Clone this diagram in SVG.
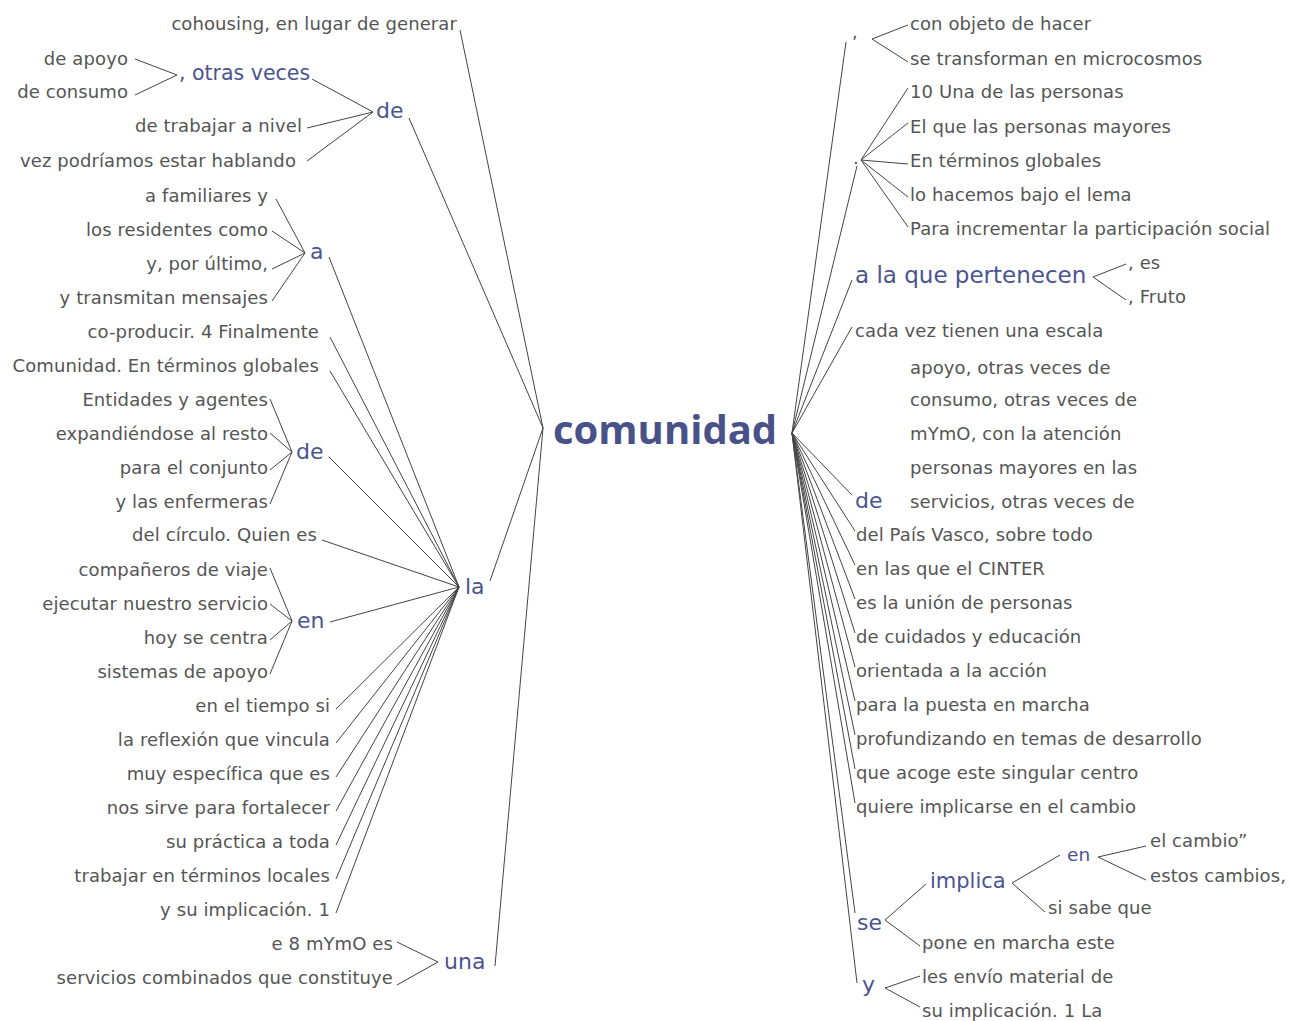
<svg xmlns="http://www.w3.org/2000/svg" width="1290" height="1021" viewBox="0 0 1290 1021">
  <style>
    .t { font-family: "DejaVu Sans", "Noto Sans", "Liberation Sans", sans-serif; font-size: 18px; letter-spacing: 0.1px; fill: #555555; }
    .n { font-family: "DejaVu Sans", "Noto Sans", "Liberation Sans", sans-serif; font-size: 22px; fill: #4a5590; }
    .root { font-family: "Open Sans", "Noto Sans", "Liberation Sans", sans-serif; font-size: 40px; font-weight: bold; fill: #485288; }
    .e { text-anchor: end; }
    .links path { fill: none; stroke: #444444; stroke-width: 1; }
  </style>
  <rect width="1290" height="1021" fill="#ffffff"/>

  <!-- connectors -->
  <g class="links">
    <!-- left side -->
    <path d="M543,428 L460,30"/>
    <path d="M543,428 L409,118"/>
    <path d="M543,428 L490,581"/>
    <path d="M543,428 L495,966"/>
    <path d="M373,112 L312,79 M373,112 L307,128 M373,112 L307,161"/>
    <path d="M177,75 L135,59 M177,75 L135,95"/>
    <path d="M305,253 L276,199 M305,253 L272,231 M305,253 L272,269 M305,253 L272,301"/>
    <path d="M292,452 L270,399 M292,452 L270,433 M292,452 L270,470 M292,452 L270,504"/>
    <path d="M292,621 L270,568 M292,621 L270,604 M292,621 L270,640 M292,621 L270,674"/>
    <path d="M459,587 L329,257 M459,587 L330,337 M459,587 L330,371 M459,587 L329,457 M459,587 L322,540 M459,587 L330,622"/>
    <path d="M459,587 L336,709 M459,587 L336,743 M459,587 L336,777 M459,587 L336,811 M459,587 L336,845 M459,587 L336,879 M459,587 L336,913"/>
    <path d="M438,962 L397,942 M438,962 L397,985"/>
    <!-- right side -->
    <path d="M792,433 L846,42 M792,433 L857,166 M792,433 L852,280 M792,433 L852,327 M792,433 L852,495"/>
    <path d="M792,433 L855,531 M792,433 L855,565 M792,433 L855,599 M792,433 L855,633 M792,433 L855,667 M792,433 L855,701 M792,433 L855,735 M792,433 L855,769 M792,433 L855,803"/>
    <path d="M792,433 L855,913 M792,433 L857,983"/>
    <path d="M872,39 L908,25 M872,39 L908,62"/>
    <path d="M861,160 L908,88 M861,160 L908,123 M861,160 L908,164 M861,160 L908,197 M861,160 L908,227"/>
    <path d="M1093,277 L1126,264 M1093,277 L1126,300"/>
    <path d="M885,920 L926,884 M885,920 L920,946"/>
    <path d="M1012,883 L1060,855 M1012,883 L1045,912"/>
    <path d="M1098,857 L1146,846 M1098,857 L1146,880"/>
    <path d="M885,988 L920,976 M885,988 L920,1007"/>
  </g>

  <!-- root -->
  <g id="node-comunidad"><text class="root" x="553" y="444">comunidad</text></g>

  <!-- left branches -->
  <g id="node-l-cohousing"><text class="t e" x="457" y="30">cohousing, en lugar de generar</text></g>
  <g id="node-l-de1"><text class="n" x="376" y="118">de</text></g>
  <g id="node-l-otras"><text class="n" x="179" y="80" style="font-size:20.5px">, otras veces</text></g>
  <g id="node-l-deapoyo"><text class="t e" x="128" y="65">de apoyo</text></g>
  <g id="node-l-deconsumo"><text class="t e" x="128" y="98">de consumo</text></g>
  <g id="node-l-trabajar"><text class="t e" x="302" y="132">de trabajar a nivel</text></g>
  <g id="node-l-vez"><text class="t e" x="296" y="167">vez podríamos estar hablando</text></g>

  <g id="node-l-la"><text class="n" x="465" y="594">la</text></g>
  <g id="node-l-a"><text class="n" x="310" y="259">a</text></g>
  <g id="node-l-familiares"><text class="t e" x="268" y="202">a familiares y</text></g>
  <g id="node-l-residentes"><text class="t e" x="268" y="236">los residentes como</text></g>
  <g id="node-l-ultimo"><text class="t e" x="268" y="270">y, por último,</text></g>
  <g id="node-l-transmitan"><text class="t e" x="268" y="304">y transmitan mensajes</text></g>
  <g id="node-l-coproducir"><text class="t e" x="319" y="338">co-producir. 4 Finalmente</text></g>
  <g id="node-l-comunidad"><text class="t e" x="319" y="372">Comunidad. En términos globales</text></g>
  <g id="node-l-de2"><text class="n" x="296" y="459">de</text></g>
  <g id="node-l-entidades"><text class="t e" x="268" y="406">Entidades y agentes</text></g>
  <g id="node-l-expandiendose"><text class="t e" x="268" y="440">expandiéndose al resto</text></g>
  <g id="node-l-conjunto"><text class="t e" x="268" y="474">para el conjunto</text></g>
  <g id="node-l-enfermeras"><text class="t e" x="268" y="508">y las enfermeras</text></g>
  <g id="node-l-circulo"><text class="t e" x="317" y="541">del círculo. Quien es</text></g>
  <g id="node-l-en"><text class="n" x="297" y="628">en</text></g>
  <g id="node-l-companeros"><text class="t e" x="268" y="576">compañeros de viaje</text></g>
  <g id="node-l-ejecutar"><text class="t e" x="268" y="610">ejecutar nuestro servicio</text></g>
  <g id="node-l-centra"><text class="t e" x="268" y="644">hoy se centra</text></g>
  <g id="node-l-sistemas"><text class="t e" x="268" y="678">sistemas de apoyo</text></g>
  <g id="node-l-tiempo"><text class="t e" x="330" y="712">en el tiempo si</text></g>
  <g id="node-l-reflexion"><text class="t e" x="330" y="746">la reflexión que vincula</text></g>
  <g id="node-l-especifica"><text class="t e" x="330" y="780">muy específica que es</text></g>
  <g id="node-l-fortalecer"><text class="t e" x="330" y="814">nos sirve para fortalecer</text></g>
  <g id="node-l-practica"><text class="t e" x="330" y="848">su práctica a toda</text></g>
  <g id="node-l-locales"><text class="t e" x="330" y="882">trabajar en términos locales</text></g>
  <g id="node-l-implicacion"><text class="t e" x="330" y="916">y su implicación. 1</text></g>
  <g id="node-l-una"><text class="n" x="444" y="969">una</text></g>
  <g id="node-l-mymo"><text class="t e" x="393" y="950">e 8 mYmO es</text></g>
  <g id="node-l-servicios"><text class="t e" x="393" y="984">servicios combinados que constituye</text></g>

  <!-- right branches -->
  <g id="node-r-comma"><text class="n" x="852" y="38" style="font-size:18px">,</text></g>
  <g id="node-r-objeto"><text class="t" x="910" y="30">con objeto de hacer</text></g>
  <g id="node-r-microcosmos"><text class="t" x="910" y="65">se transforman en microcosmos</text></g>
  <g id="node-r-period"><text class="n" x="853" y="164" style="font-size:18px">.</text></g>
  <g id="node-r-10una"><text class="t" x="910" y="98">10 Una de las personas</text></g>
  <g id="node-r-elque"><text class="t" x="910" y="133">El que las personas mayores</text></g>
  <g id="node-r-terminos"><text class="t" x="910" y="167">En términos globales</text></g>
  <g id="node-r-lema"><text class="t" x="910" y="201">lo hacemos bajo el lema</text></g>
  <g id="node-r-para"><text class="t" x="910" y="235">Para incrementar la participación social</text></g>
  <g id="node-r-pertenecen"><text class="n" x="855" y="283" style="font-size:23px">a la que pertenecen</text></g>
  <g id="node-r-es"><text class="t" x="1128" y="269">, es</text></g>
  <g id="node-r-fruto"><text class="t" x="1128" y="303">, Fruto</text></g>
  <g id="node-r-escala"><text class="t" x="855" y="337">cada vez tienen una escala</text></g>
  <g id="node-r-de"><text class="n" x="855" y="508">de</text></g>
  <g id="node-r-apoyo"><text class="t" x="910" y="374">apoyo, otras veces de</text></g>
  <g id="node-r-consumo"><text class="t" x="910" y="406">consumo, otras veces de</text></g>
  <g id="node-r-mymo"><text class="t" x="910" y="440">mYmO, con la atención</text></g>
  <g id="node-r-personas"><text class="t" x="910" y="474">personas mayores en las</text></g>
  <g id="node-r-servicios"><text class="t" x="910" y="508">servicios, otras veces de</text></g>
  <g id="node-r-pais"><text class="t" x="856" y="541">del País Vasco, sobre todo</text></g>
  <g id="node-r-cinter"><text class="t" x="856" y="575">en las que el CINTER</text></g>
  <g id="node-r-union"><text class="t" x="856" y="609">es la unión de personas</text></g>
  <g id="node-r-cuidados"><text class="t" x="856" y="643">de cuidados y educación</text></g>
  <g id="node-r-accion"><text class="t" x="856" y="677">orientada a la acción</text></g>
  <g id="node-r-puesta"><text class="t" x="856" y="711">para la puesta en marcha</text></g>
  <g id="node-r-profundizando"><text class="t" x="856" y="745">profundizando en temas de desarrollo</text></g>
  <g id="node-r-acoge"><text class="t" x="856" y="779">que acoge este singular centro</text></g>
  <g id="node-r-quiere"><text class="t" x="856" y="813">quiere implicarse en el cambio</text></g>
  <g id="node-r-se"><text class="n" x="857" y="930">se</text></g>
  <g id="node-r-implica"><text class="n" x="930" y="888" style="font-size:21px">implica</text></g>
  <g id="node-r-en"><text class="n" x="1067" y="861" style="font-size:18.5px">en</text></g>
  <g id="node-r-elcambio"><text class="t" x="1150" y="847">el cambio”</text></g>
  <g id="node-r-estos"><text class="t" x="1150" y="882">estos cambios,</text></g>
  <g id="node-r-sabe"><text class="t" x="1048" y="914">si sabe que</text></g>
  <g id="node-r-pone"><text class="t" x="922" y="949">pone en marcha este</text></g>
  <g id="node-r-y"><text class="n" x="862" y="992">y</text></g>
  <g id="node-r-envio"><text class="t" x="922" y="983">les envío material de</text></g>
  <g id="node-r-suimpl"><text class="t" x="922" y="1017">su implicación. 1 La</text></g>
</svg>
